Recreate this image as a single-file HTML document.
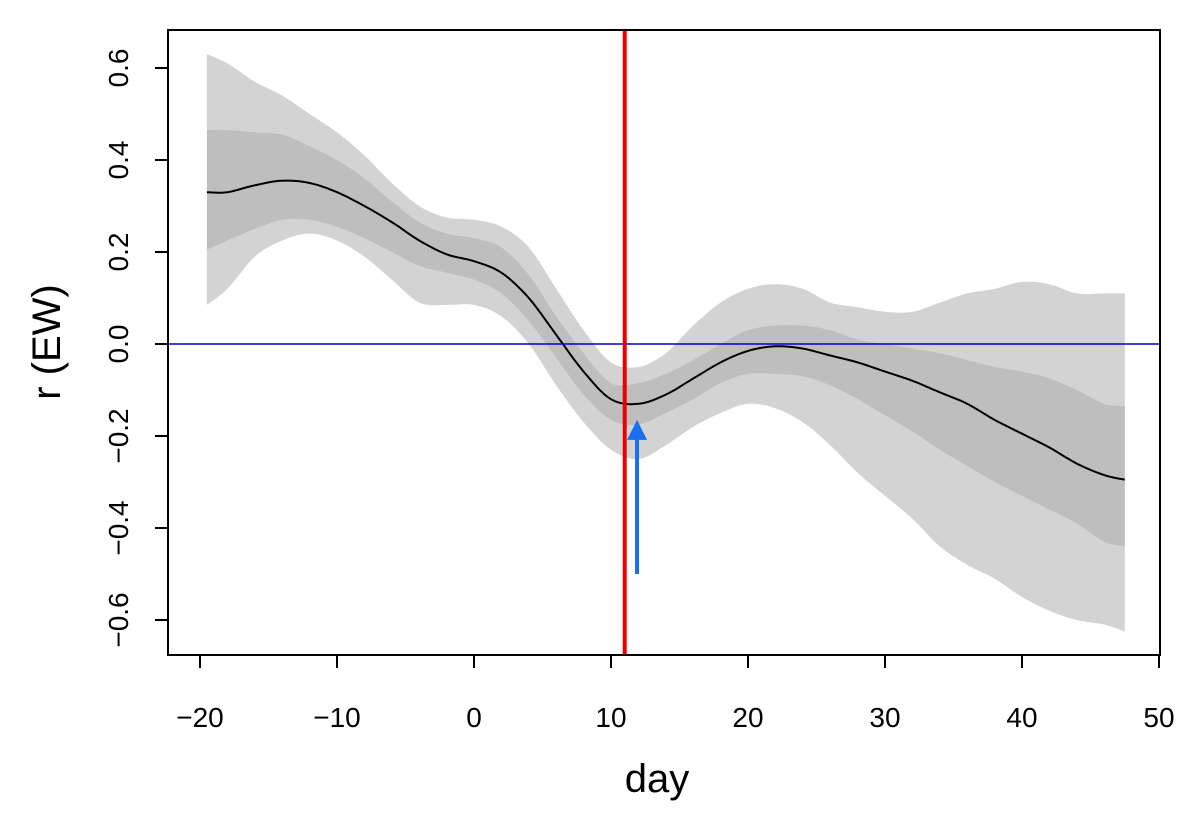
<!DOCTYPE html>
<html><head><meta charset="utf-8"><style>
body{margin:0;background:#fff}
svg text{font-family:"Liberation Sans",sans-serif;fill:#000}
</style></head><body>
<svg width="1200" height="829" viewBox="0 0 1200 829" id="c"></svg>
<script>
const days=[-19.5,-18,-16,-14,-12,-10,-8,-6,-4,-2,0,2,4,6,8,10,12,14,16,18,20,22,24,26,28,30,32,34,36,38,40,42,44,46,47.5];
const mean=[0.33,0.33,0.345,0.355,0.35,0.33,0.30,0.265,0.225,0.195,0.18,0.155,0.10,0.02,-0.06,-0.12,-0.13,-0.11,-0.075,-0.04,-0.015,-0.005,-0.01,-0.025,-0.04,-0.06,-0.08,-0.105,-0.13,-0.165,-0.195,-0.225,-0.26,-0.285,-0.295];
const outerHi=[0.63,0.61,0.57,0.54,0.50,0.46,0.41,0.35,0.30,0.275,0.27,0.255,0.21,0.12,0.03,-0.04,-0.05,-0.02,0.04,0.09,0.12,0.13,0.12,0.09,0.08,0.07,0.07,0.09,0.11,0.12,0.135,0.13,0.11,0.11,0.11];
const outerLo=[0.085,0.12,0.19,0.225,0.24,0.225,0.19,0.14,0.09,0.085,0.085,0.06,0.0,-0.09,-0.17,-0.23,-0.25,-0.22,-0.18,-0.15,-0.13,-0.14,-0.17,-0.22,-0.28,-0.33,-0.38,-0.44,-0.48,-0.51,-0.55,-0.58,-0.60,-0.61,-0.625];
const innerHi=[0.465,0.465,0.46,0.455,0.43,0.40,0.36,0.31,0.265,0.24,0.23,0.21,0.15,0.06,-0.02,-0.085,-0.085,-0.065,-0.035,0.0,0.03,0.04,0.04,0.03,0.01,0.0,-0.01,-0.02,-0.035,-0.05,-0.06,-0.075,-0.10,-0.13,-0.135];
const innerLo=[0.205,0.225,0.25,0.27,0.27,0.255,0.23,0.20,0.17,0.155,0.14,0.11,0.05,-0.03,-0.11,-0.165,-0.175,-0.15,-0.12,-0.085,-0.065,-0.065,-0.07,-0.09,-0.12,-0.155,-0.19,-0.23,-0.265,-0.30,-0.33,-0.36,-0.39,-0.43,-0.44];
const xTicks=[-20,-10,0,10,20,30,40,50];
const yTicks=[-0.6,-0.4,-0.2,0.0,0.2,0.4,0.6];
const eventDay=11;
const arrowDay=11.9, arrowFrom=-0.5, arrowTo=-0.165;

const X=d=>474+d*13.7;
const Y=v=>344-v*460;
const svg=document.getElementById('c');
const NS='http://www.w3.org/2000/svg';
function mk(t,a,p){const e=document.createElementNS(NS,t);for(const k in a)e.setAttribute(k,a[k]);(p||svg).appendChild(e);return e;}
function smooth(arr){
  // Catmull-Rom interpolation for smoother curves
  const P=days.map((d,i)=>[X(d),Y(arr[i])]);
  const out=[];
  for(let i=0;i<P.length-1;i++){
    const p0=P[Math.max(0,i-1)],p1=P[i],p2=P[i+1],p3=P[Math.min(P.length-1,i+2)];
    for(let s=0;s<8;s++){
      const t=s/8,t2=t*t,t3=t2*t;
      const f=(a,b,c,d)=>0.5*(2*b+(-a+c)*t+(2*a-5*b+4*c-d)*t2+(-a+3*b-3*c+d)*t3);
      out.push([f(p0[0],p1[0],p2[0],p3[0]),f(p0[1],p1[1],p2[1],p3[1])]);
    }
  }
  out.push(P[P.length-1]);
  return out.map(p=>p[0].toFixed(1)+','+p[1].toFixed(1));
}
function band(hi,lo,fill,name){
  const p=smooth(hi).concat(smooth(lo).reverse());
  const e=mk('polygon',{points:p.join(' '),fill:fill});
  
  
}
band(outerHi,outerLo,'#d3d3d3','outer-band');
band(innerHi,innerLo,'#bebebe','inner-band');
let e=mk('polyline',{points:smooth(mean).join(' '),fill:'none',stroke:'#000','stroke-width':2});


e=mk('line',{x1:168,x2:1160,y1:Y(0),y2:Y(0),stroke:'#0000cd','stroke-width':1.5});


e=mk('line',{x1:X(eventDay),x2:X(eventDay),y1:30,y2:655,stroke:'#ee0000','stroke-width':4});


e=mk('line',{x1:X(arrowDay),x2:X(arrowDay),y1:Y(arrowFrom),y2:Y(arrowTo)+15,stroke:'#1a6ef0','stroke-width':4});


const ax=X(arrowDay),ay=Y(arrowTo);
e=mk('polygon',{points:`${ax},${ay} ${ax-10},${ay+20} ${ax+10},${ay+20}`,fill:'#1a6ef0'});


e=mk('rect',{x:168,y:30,width:992,height:625,fill:'none',stroke:'#000','stroke-width':2});


xTicks.forEach(t=>{
  const l=mk('line',{x1:X(t),x2:X(t),y1:655,y2:668,stroke:'#000','stroke-width':2});
  
  
  const tx=mk('text',{x:X(t),y:727,'text-anchor':'middle','font-size':28});
  tx.textContent=t<0?'\u2212'+Math.abs(t):String(t);
  
  
});
yTicks.forEach(t=>{
  const l=mk('line',{x1:155,x2:168,y1:Y(t),y2:Y(t),stroke:'#000','stroke-width':2});
  
  
  const s=(t<0?'\u2212':'')+Math.abs(t).toFixed(1);
  const tx=mk('text',{x:0,y:0,'text-anchor':'middle','font-size':28,transform:`translate(128,${Y(t)}) rotate(-90)`});
  tx.textContent=s;
  
  
});
e=mk('text',{x:657,y:792,'text-anchor':'middle','font-size':40});
e.textContent='day';


e=mk('text',{x:0,y:0,'text-anchor':'middle','font-size':40,transform:'translate(60,342) rotate(-90)'});
e.textContent='r (EW)';


</script>
</body></html>
